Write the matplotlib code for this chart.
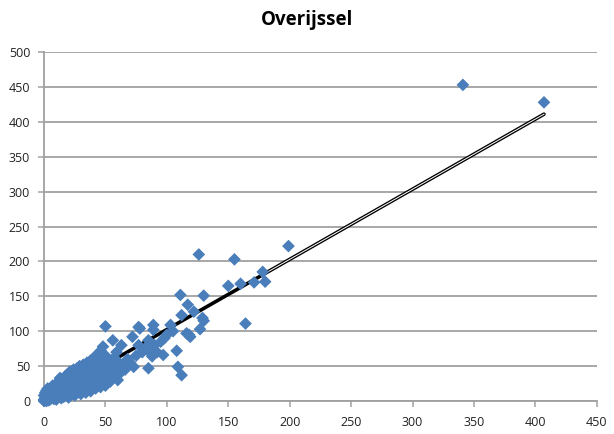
import numpy as np
import matplotlib
matplotlib.use("Agg")
import matplotlib.pyplot as plt

# values (x, y)
cluster_x = [0, 0, 1, 1, 2, 2, 3, 0, 1, 2, 3, 4, 4, 5, 5, 5, 3, 1, 2, 4,
             6, 6, 7, 7, 8, 8, 8, 9, 9, 10, 10, 10, 6, 7, 9, 10,
             11, 11, 12, 12, 13, 13, 14, 14, 14, 15, 15, 15, 12, 13, 11,
             16, 16, 16, 17, 17, 18, 18, 18, 19, 19, 20, 20, 20, 20, 17, 19,
             21, 21, 22, 22, 22, 23, 23, 24, 24, 24, 25, 25, 25, 25, 23, 21,
             26, 26, 27, 27, 27, 28, 28, 28, 29, 29, 30, 30, 30, 30, 26, 29,
             31, 31, 32, 32, 32, 33, 33, 33, 34, 34, 34, 35, 35, 35, 35,
             36, 36, 37, 37, 38, 38, 38, 39, 39, 40, 40, 40, 40, 37,
             41, 41, 42, 42, 43, 43, 44, 44, 45, 45, 45, 42,
             46, 46, 47, 47, 48, 48, 49, 49, 50, 50, 50, 50, 48, 46,
             51, 52, 53, 54, 55, 56, 56, 57, 58, 60, 60, 62, 63, 59, 61]
cluster_y = [0, 2, 1, 4, 0, 3, 6, 8, 12, 15, 2, 5, 10, 3, 8, 14, 18, 6, 9, 1,
             4, 10, 7, 15, 3, 12, 20, 6, 9, 2, 14, 25, 18, 22, 17, 8,
             5, 12, 18, 28, 9, 15, 4, 22, 30, 11, 17, 26, 8, 33, 20,
             6, 14, 21, 28, 35, 10, 18, 24, 31, 38, 5, 14, 20, 27, 12, 16,
             34, 42, 9, 18, 25, 30, 38, 13, 22, 45, 8, 17, 27, 35, 15, 24,
             40, 20, 12, 30, 47, 24, 36, 16, 42, 50, 10, 20, 28, 33, 32, 26,
             45, 38, 15, 24, 52, 30, 40, 18, 35, 48, 12, 22, 28, 42, 55,
             32, 18, 45, 25, 38, 58, 14, 30, 50, 22, 35, 42, 60, 53,
             28, 63, 18, 46, 36, 55, 25, 40, 30, 50, 68, 32,
             20, 44, 60, 35, 78, 26, 48, 40, 107, 22, 55, 65, 52, 72,
             34, 45, 58, 28, 40, 87, 50, 62, 35, 30, 48, 40, 80, 70, 55]

mid_x = [64, 66, 68, 70, 72, 73, 75, 77, 78, 77, 80, 82, 85, 85, 85, 88, 89, 89,
         90, 92, 95, 97, 98, 100, 103, 105, 108, 109, 112, 111, 112, 116, 117,
         118, 119, 122, 127, 129, 130, 126, 130]
mid_y = [52, 45, 60, 55, 92, 49, 65, 80, 104, 106, 70, 75, 87, 47, 72, 64, 102, 109,
         80, 70, 85, 66, 90, 95, 109, 100, 72, 49, 37, 152, 123, 97, 138,
         95, 92, 128, 103, 119, 151, 210, 115]

high_x = [150, 155, 160, 164, 171, 178, 180, 199, 341, 407]
high_y = [165, 203, 168, 111, 170, 185, 171, 222, 453, 428]

# trend line (y = a*x + b)
trend_slope = 1.005
trend_intercept = 2.0

x = np.array(cluster_x + mid_x + high_x, dtype=float)
y = np.array(cluster_y + mid_y + high_y, dtype=float)

tx = np.array([x.min(), x.max()])
tx2 = np.array([180, x.max()])

fig = plt.figure(figsize=(6.14, 4.34), dpi=100)
ax = fig.add_axes([0.0717, 0.076, 0.9003, 0.804])

grid_col = "#a0a0a0"
ax.set_xlim(0, 450)
ax.set_ylim(0, 500)
ax.set_xticks(np.arange(0, 451, 50))
ax.set_yticks(np.arange(0, 501, 50))
ax.yaxis.grid(True, color=grid_col, linewidth=1.3)
ax.set_axisbelow(True)
for s in ["top", "right"]:
    ax.spines[s].set_visible(False)
for s in ["left", "bottom"]:
    ax.spines[s].set_color(grid_col)
    ax.spines[s].set_linewidth(1.3)
ax.tick_params(axis="both", colors=grid_col, length=4, width=1.1,
               labelcolor="#222222", labelsize=9)
ax.tick_params(axis="x", pad=7)
ax.tick_params(axis="y", pad=6)
for lab in ax.get_xticklabels() + ax.get_yticklabels():
    lab.set_family("Open Sans")

ax.plot(tx, trend_slope * tx + trend_intercept, color="black", lw=2.6,
        zorder=2, solid_capstyle="round")
ax.plot(tx2, trend_slope * tx2 + trend_intercept, color="white", lw=0.7,
        zorder=2.1)
ax.scatter(x, y, marker="D", s=42, color="#4a7ebb", edgecolors="none",
           zorder=3, clip_on=False)

fig.text(0.5, 0.953, "Overijssel", ha="center", va="center",
         fontsize=13.5, fontweight="bold", family="Open Sans")

fig.savefig("out.png", dpi=100)
